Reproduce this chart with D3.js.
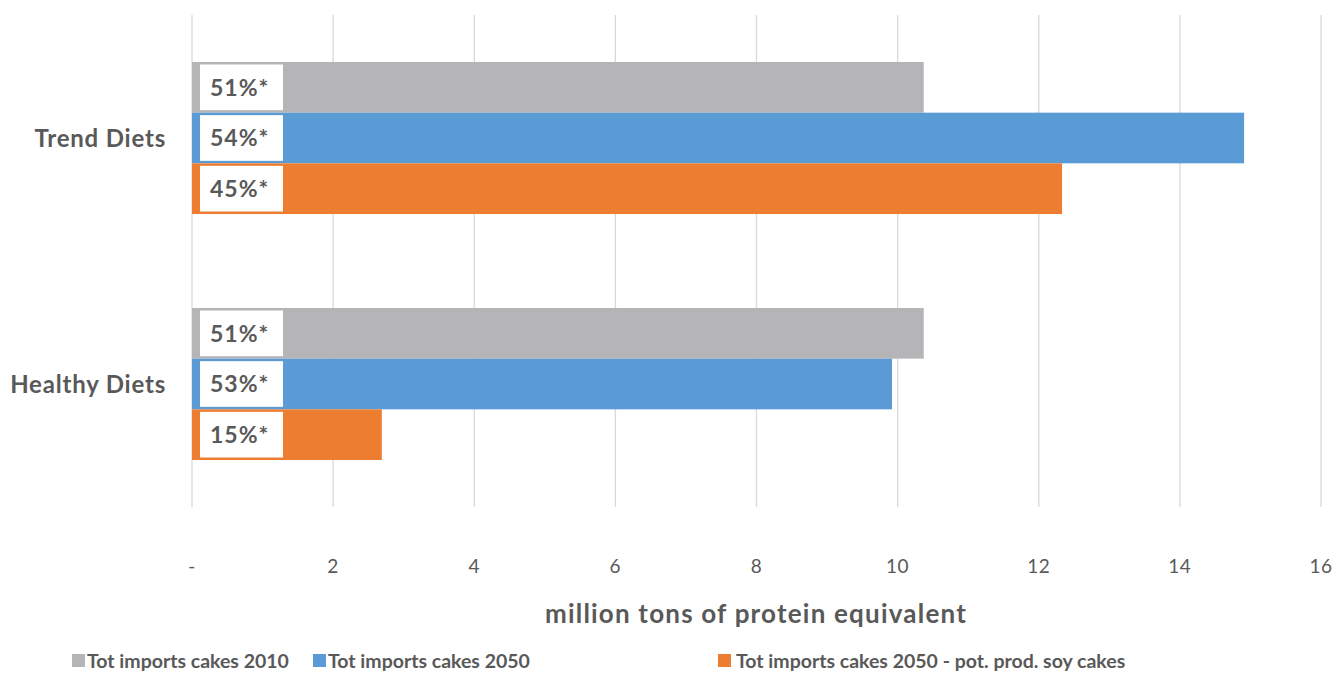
<!DOCTYPE html>
<html>
<head>
<meta charset="utf-8">
<script src="https://cdn.jsdelivr.net/npm/d3@7"></script>
<style>
  body { margin: 0; background: #fff; }
  text { font-family: Lato, "Open Sans", sans-serif; font-weight: bold; fill: #595959; }
</style>
</head>
<body>
<div id="chart"></div>
<script>
var categories = ["Trend Diets", "Healthy Diets"]
var seriesNames = ["Tot imports cakes 2010", "Tot imports cakes 2050", "Tot imports cakes 2050 - pot. prod. soy cakes"]
var values2010 = [10.37, 10.37]
var values2050 = [14.91, 9.92]
var valuesSoy = [12.33, 2.69]
var shares2010 = ["51%*", "51%*"]
var shares2050 = ["54%*", "53%*"]
var sharesSoy = ["45%*", "15%*"]
var xTicks = [0, 2, 4, 6, 8, 10, 12, 14, 16]

var colors = ["#b5b5b7", "#5b9bd5", "#ed7d31"]

var width = 1337, height = 679
var margin = { top: 15, left: 192, right: 16, bottom: 172 }

var svg = d3.select("#chart")
  .append("svg")
  .attr("width", width)
  .attr("height", height)

var x = d3.scaleLinear()
  .domain([0, 16])
  .range([margin.left, width - margin.right])

var y0 = d3.scaleBand()
  .domain(categories)
  .range([margin.top, height - margin.bottom])
  .paddingInner(0.382)
  .paddingOuter(0.191)

var y1 = d3.scaleBand()
  .domain([0, 1, 2])
  .range([0, y0.bandwidth()])

// gridlines
svg.append("g")
  .selectAll("line")
  .data(xTicks)
  .enter()
  .append("line")
  .attr("x1", function (d) { return x(d) })
  .attr("x2", function (d) { return x(d) })
  .attr("y1", margin.top)
  .attr("y2", height - margin.bottom)
  .attr("stroke", "#d9d9d9")
  .attr("stroke-width", 1.3)

// tick labels
svg.append("g")
  .selectAll("text")
  .data(xTicks)
  .enter()
  .append("text")
  .attr("x", function (d) { return x(d) })
  .attr("y", 573)
  .attr("text-anchor", "middle")
  .style("font-size", "19px")
  .style("font-weight", "normal")
  .style("letter-spacing", "0.5px")
  .text(function (d) { return d === 0 ? "-" : d })

// category labels
svg.append("g")
  .selectAll("text")
  .data(categories)
  .enter()
  .append("text")
  .attr("x", 166)
  .attr("y", function (d) { return y0(d) + y0.bandwidth() / 2 + 9 })
  .attr("text-anchor", "end")
  .style("font-size", "24px")
  .style("letter-spacing", "0.8px")
  .text(function (d) { return d })

var rows = []
categories.forEach(function (c, i) {
  rows.push({ cat: c, s: 0, v: values2010[i], label: shares2010[i] })
  rows.push({ cat: c, s: 1, v: values2050[i], label: shares2050[i] })
  rows.push({ cat: c, s: 2, v: valuesSoy[i], label: sharesSoy[i] })
})

var bar = svg.append("g")
  .selectAll("g")
  .data(rows)
  .enter()
  .append("g")
  .attr("transform", function (d) {
    return "translate(0," + (y0(d.cat) + y1(d.s)) + ")"
  })

bar.append("rect")
  .attr("x", x(0))
  .attr("y", 0)
  .attr("width", function (d) { return x(d.v) - x(0) })
  .attr("height", y1.bandwidth())
  .attr("fill", function (d) { return colors[d.s] })

bar.append("rect")
  .attr("x", x(0) + 8)
  .attr("y", 2.5)
  .attr("width", 83)
  .attr("height", y1.bandwidth() - 5)
  .attr("fill", "#fff")

bar.append("text")
  .attr("x", x(0) + 18)
  .attr("y", y1.bandwidth() / 2 + 8.5)
  .style("font-size", "23px")
  .style("letter-spacing", "1px")
  .text(function (d) { return d.label })

// axis title
svg.append("text")
  .attr("x", 756)
  .attr("y", 623)
  .attr("text-anchor", "middle")
  .style("font-size", "26px")
  .style("letter-spacing", "1.2px")
  .text("million tons of protein equivalent")

// legend
var legendX = [72, 313, 718]
var legend = svg.append("g")
  .selectAll("g")
  .data(seriesNames)
  .enter()
  .append("g")
  .attr("transform", function (d, i) { return "translate(" + legendX[i] + ",654)" })

legend.append("rect")
  .attr("width", 13)
  .attr("height", 13)
  .attr("fill", function (d, i) { return colors[i] })

legend.append("text")
  .attr("x", function (d, i) { return i === 2 ? 18 : 15 })
  .attr("y", 14)
  .style("font-size", "19.5px")
  .text(function (d) { return d })
</script>
</body>
</html>
